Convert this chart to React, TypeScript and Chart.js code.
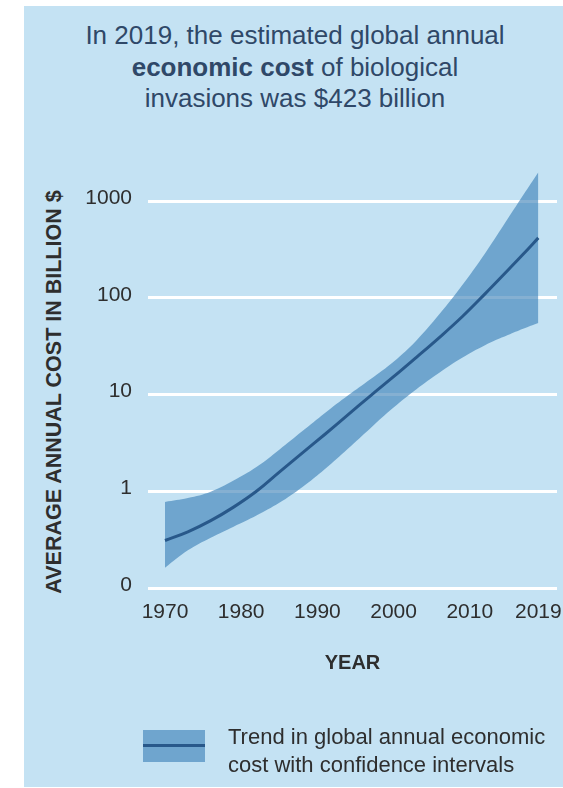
import React, { useEffect, useRef } from "react";
import { Chart, registerables } from "chart.js";

Chart.register(...registerables);

// ---- data ----
const years = [1970, 1973, 1976, 1979, 1982, 1985, 1988, 1991, 1994, 1997, 2000, 2003, 2006, 2009, 2012, 2015, 2017, 2019];
const trendCost = [0.31, 0.381, 0.497, 0.686, 1.0, 1.58, 2.48, 3.89, 6.17, 9.77, 15.3, 24.3, 38.9, 63.8, 110, 193, 282, 417];
const upperCost = [0.776, 0.851, 0.989, 1.29, 1.78, 2.69, 4.17, 6.46, 9.77, 14.5, 21.9, 36.3, 67.6, 135, 288, 660, 1150, 1995];
const lowerCost = [0.162, 0.245, 0.331, 0.431, 0.562, 0.759, 1.1, 1.7, 2.75, 4.52, 7.33, 11.35, 16.8, 24.0, 32.4, 41.2, 47.9, 55];

const xTickValues = [1970, 1980, 1990, 2000, 2010, 2019];
const xTickLabels = ["1970", "1980", "1990", "2000", "2010", "2019"];
const yTickValues = [0.1, 1, 10, 100, 1000];
const yTickLabels = ["0", "1", "10", "100", "1000"];

const titleLine1 = "In 2019, the estimated global annual";
const titleBold = "economic cost";
const titleLine2Rest = " of biological";
const titleLine3 = "invasions was $423 billion";
const yAxisTitle = "AVERAGE ANNUAL COST IN BILLION $";
const xAxisTitle = "YEAR";
const legendLine1 = "Trend in global annual economic";
const legendLine2 = "cost with confidence intervals";

const FONT = '"Liberation Sans", Arial, Helvetica, sans-serif';
const BG = "#c4e2f3";
const BAND = "rgba(58, 128, 182, 0.62)";
const LINE = "#28588a";
const TEXT = "#2e2e2e";

export default function App() {
  const canvasRef = useRef<HTMLCanvasElement | null>(null);

  useEffect(() => {
    const canvas = canvasRef.current;
    if (!canvas) return;
    const toPts = (vals: number[]) => years.map((y, i) => ({ x: y, y: vals[i] }));

    const chart = new Chart(canvas, {
      type: "line",
      data: {
        datasets: [
          {
            label: "Trend",
            data: toPts(trendCost),
            borderColor: LINE,
            borderWidth: 3,
            pointRadius: 0,
            fill: false,
            tension: 0.4,
            order: 0,
          },
          {
            label: "Upper",
            data: toPts(upperCost),
            borderWidth: 0,
            borderColor: "rgba(0,0,0,0)",
            backgroundColor: BAND,
            pointRadius: 0,
            fill: "+1",
            tension: 0.4,
            order: 1,
          },
          {
            label: "Lower",
            data: toPts(lowerCost),
            borderWidth: 0,
            borderColor: "rgba(0,0,0,0)",
            pointRadius: 0,
            fill: false,
            tension: 0.4,
            order: 2,
          },
        ],
      },
      options: {
        animation: false,
        responsive: false,
        events: [],
        layout: { padding: { left: 0, top: 155, right: 6, bottom: 100 } },
        plugins: {
          legend: { display: false },
          tooltip: { enabled: false },
          filler: { drawTime: "beforeDatasetsDraw" },
        } as any,
        scales: {
          x: {
            type: "linear",
            min: 1967.77,
            max: 2021.45,
            border: { display: false },
            grid: { display: false, drawTicks: false },
            afterBuildTicks: (scale: any) => {
              scale.ticks = xTickValues.map((v) => ({ value: v }));
            },
            afterFit: (scale: any) => {
              scale.height = 100;
              scale.paddingLeft = 0;
              scale.paddingRight = 0;
            },
            ticks: {
              autoSkip: false,
              maxRotation: 0,
              padding: 12,
              color: TEXT,
              font: { family: FONT, size: 21 },
              callback: (_v: any, i: number) => xTickLabels[i],
            },
            title: {
              display: true,
              text: xAxisTitle,
              color: TEXT,
              font: { family: FONT, size: 20, weight: "bold" },
              padding: { top: 0, bottom: 13 },
            },
          },
          y: {
            type: "logarithmic",
            min: 0.1,
            max: 3000,
            border: { display: false },
            grid: { color: "#ffffff", lineWidth: 3, drawTicks: false },
            afterBuildTicks: (scale: any) => {
              scale.ticks = yTickValues.map((v) => ({ value: v }));
            },
            afterFit: (scale: any) => {
              scale.width = 148;
              scale.paddingTop = 0;
              scale.paddingBottom = 0;
            },
            ticks: {
              autoSkip: false,
              padding: 16,
              labelOffset: -3,
              color: TEXT,
              font: { family: FONT, size: 21 },
              callback: (_v: any, i: number) => yTickLabels[i],
            },
          },
        },
      } as any,
    });
    return () => chart.destroy();
  }, []);

  return (
    <div style={{ position: "fixed", left: 0, top: 0, width: 563, height: 788, background: "#ffffff", overflow: "hidden" }}>
      <div style={{ position: "absolute", left: 24, top: 6, width: 539, height: 781, background: BG }} />
      <div
        style={{
          position: "absolute",
          left: 24,
          top: 20,
          width: 542,
          textAlign: "center",
          fontFamily: FONT,
          fontSize: 26,
          lineHeight: "31.5px",
          color: "#2f4868",
          whiteSpace: "nowrap",
        }}
      >
        <div>{titleLine1}</div>
        <div>
          <b>{titleBold}</b>
          {titleLine2Rest}
        </div>
        <div>{titleLine3}</div>
      </div>
      <div
        style={{
          position: "absolute",
          left: 54 - 220,
          top: 392 - 13,
          width: 440,
          height: 26,
          lineHeight: "26px",
          textAlign: "center",
          transform: "rotate(-90deg)",
          transformOrigin: "50% 50%",
          fontFamily: FONT,
          fontSize: 21.5,
          fontWeight: "bold",
          color: TEXT,
          whiteSpace: "nowrap",
        }}
      >
        {yAxisTitle}
      </div>
      <canvas ref={canvasRef} width={563} height={788} style={{ position: "absolute", left: 0, top: 0, width: 563, height: 788 }} />
      <div style={{ position: "absolute", left: 143, top: 730, width: 62, height: 32, background: BAND }}>
        <div style={{ position: "absolute", left: 0, top: 14, width: 62, height: 3, background: LINE }} />
      </div>
      <div
        style={{
          position: "absolute",
          left: 228,
          top: 723,
          fontFamily: FONT,
          fontSize: 22,
          lineHeight: "28px",
          color: TEXT,
          whiteSpace: "nowrap",
        }}
      >
        <div>{legendLine1}</div>
        <div>{legendLine2}</div>
      </div>
    </div>
  );
}
